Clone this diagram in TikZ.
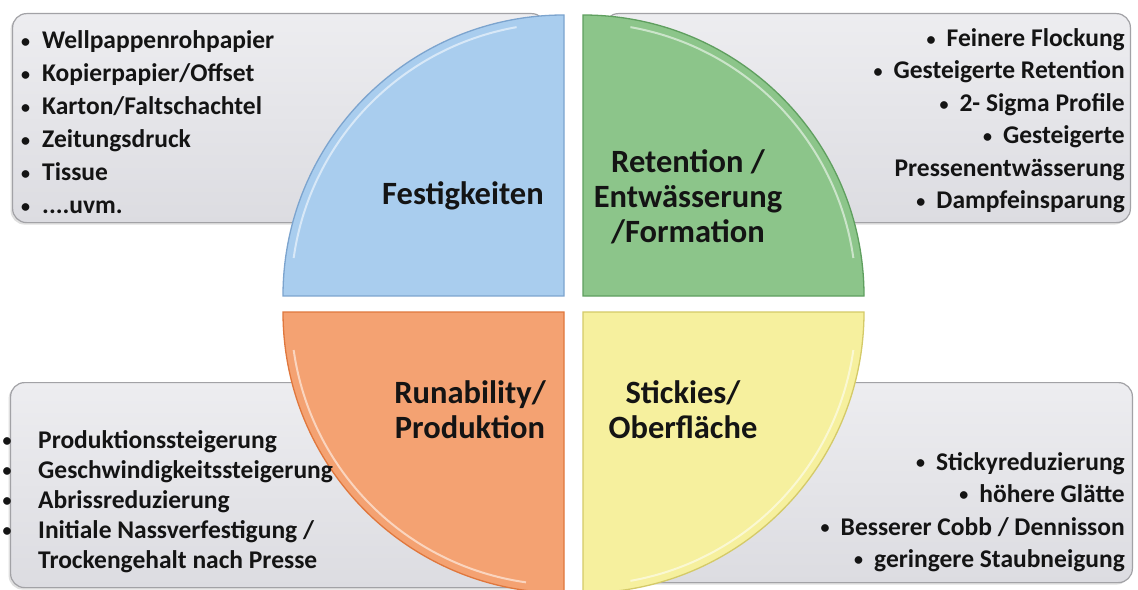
\documentclass[tikz,border=0pt]{standalone}
\usepackage{fontspec}
\setmainfont{Carlito}
\usetikzlibrary{shadows}
\definecolor{boxtop}{HTML}{EDEDF0}
\definecolor{boxbot}{HTML}{DCDCE1}
\definecolor{boxedge}{HTML}{A2A2A6}
\definecolor{qblue}{HTML}{A9CDEE}
\definecolor{qblueE}{HTML}{7CA4CE}
\definecolor{qgreen}{HTML}{8CC58A}
\definecolor{qgreenE}{HTML}{5F9F5F}
\definecolor{qorange}{HTML}{F4A272}
\definecolor{qorangeE}{HTML}{E0773D}
\definecolor{qyellow}{HTML}{F6F09E}
\definecolor{qyellowE}{HTML}{D4CA68}
\definecolor{txt}{HTML}{141414}
\newcommand\smbul{\raisebox{1.5bp}{\fontsize{18bp}{18bp}\selectfont •}}
\newcommand\mybulL{\makebox[21bp][l]{\smbul}}
\newcommand\mybulLL{\makebox[35.5bp][l]{\smbul}}
\newcommand\mybulR{\makebox[20bp][l]{\smbul}}
\begin{document}
\begin{tikzpicture}[x=1bp,y=1bp,
  listbox/.style={draw=boxedge, line width=1.2bp, rounded corners=14bp,
    top color=boxtop, bottom color=boxbot, inner sep=0pt,
    drop shadow={shadow xshift=-2bp, shadow yshift=-2bp, opacity=0.25}},
  quad/.style={line width=1.3bp},
  hilite/.style={white, opacity=0.55, line width=2bp},
  item/.style={font=\fontsize{25.5bp}{28bp}\selectfont\bfseries, text=txt, inner sep=0pt},
  lab/.style={font=\fontsize{32.5bp}{35bp}\selectfont\bfseries, text=txt, align=center, inner sep=0pt}]
\useasboundingbox (0,0) rectangle (1138,-590);
\clip (0,0) rectangle (1138,-590);
\fill[white] (0,0) rectangle (1138,-590);

% list boxes
\node[listbox, minimum width=533bp, minimum height=209bp, anchor=north west] (boxTL) at (12,-13) {};
\node[listbox, minimum width=526bp, minimum height=209bp, anchor=north east] (boxTR) at (1131,-13) {};
\node[listbox, minimum width=535bp, minimum height=205bp, anchor=north west] (boxBL) at (10,-382) {};
\node[listbox, minimum width=528bp, minimum height=200bp, anchor=north east] (boxBR) at (1133,-382) {};

% quadrants
\draw[quad, fill=qblue, draw=qblueE] (564,-296) -- (283,-296) arc[start angle=180, end angle=90, radius=281bp] -- cycle;
\draw[quad, fill=qgreen, draw=qgreenE] (583,-296) -- (583,-15) arc[start angle=90, end angle=0, radius=281bp] -- cycle;
\draw[quad, fill=qorange, draw=qorangeE] (564,-312) -- (283,-312) arc[start angle=180, end angle=270, radius=281bp] -- cycle;
\draw[quad, fill=qyellow, draw=qyellowE] (583,-312) -- (864,-312) arc[start angle=0, end angle=-90, radius=281bp] -- cycle;

% highlights
\draw[hilite] (564,-296) ++(172:273bp) arc[start angle=172, end angle=100, radius=273bp];
\draw[hilite] (583,-296) ++(80:273bp) arc[start angle=80, end angle=8, radius=273bp];
\draw[hilite] (564,-312) ++(188:273bp) arc[start angle=188, end angle=262, radius=273bp];
\draw[hilite] (583,-312) ++(-8:273bp) arc[start angle=-8, end angle=-80, radius=273bp];

% quadrant labels
\node[lab] (fest) at (463,-196) {Festigkeiten};
\node[lab] (ret) at (688,-197) {Retention /\\Entwässerung\\/Formation};
\node[lab] (run) at (470,-410) {Runability/\\Produktion};
\node[lab] (stick) at (683,-410) {Stickies/\\Oberfläche};

% top-left list
\node[item, anchor=base west] (tl1) at (21,-49) {\mybulL Wellpappenrohpapier};
\node[item, anchor=base west] (tl2) at (21,-82) {\mybulL Kopierpapier/Offset};
\node[item, anchor=base west] (tl3) at (21,-115) {\mybulL Karton/Faltschachtel};
\node[item, anchor=base west] (tl4) at (21,-148) {\mybulL Zeitungsdruck};
\node[item, anchor=base west] (tl5) at (21,-181) {\mybulL Tissue};
\node[item, anchor=base west] (tl6) at (21,-214) {\mybulL ....uvm.};

% top-right list
\node[item, anchor=base east] (tr1) at (1125,-47) {\mybulR Feinere Flockung};
\node[item, anchor=base east] (tr2) at (1125,-79) {\mybulR Gesteigerte Retention};
\node[item, anchor=base east] (tr3) at (1125,-112) {\mybulR 2- Sigma Profile};
\node[item, anchor=base east] (tr4) at (1125,-144) {\mybulR Gesteigerte};
\node[item, anchor=base east] (tr5) at (1125,-177) {Pressenentwässerung};
\node[item, anchor=base east] (tr6) at (1125,-209) {\mybulR Dampfeinsparung};

% bottom-left list
\node[item, anchor=base west] (bl1) at (2.5,-448) {\mybulLL Produktionssteigerung};
\node[item, anchor=base west] (bl2) at (2.5,-478) {\mybulLL Geschwindigkeitssteigerung};
\node[item, anchor=base west] (bl3) at (2.5,-508) {\mybulLL Abrissreduzierung};
\node[item, anchor=base west] (bl4) at (2.5,-538) {\mybulLL Initiale Nassverfestigung /};
\node[item, anchor=base west] (bl5) at (38,-568) {Trockengehalt nach Presse};

% bottom-right list
\node[item, anchor=base east] (br1) at (1125,-470) {\mybulR Stickyreduzierung};
\node[item, anchor=base east] (br2) at (1125,-502) {\mybulR höhere Glätte};
\node[item, anchor=base east] (br3) at (1125,-535) {\mybulR Besserer Cobb / Dennisson};
\node[item, anchor=base east] (br4) at (1125,-567) {\mybulR geringere Staubneigung};
\end{tikzpicture}
\end{document}
